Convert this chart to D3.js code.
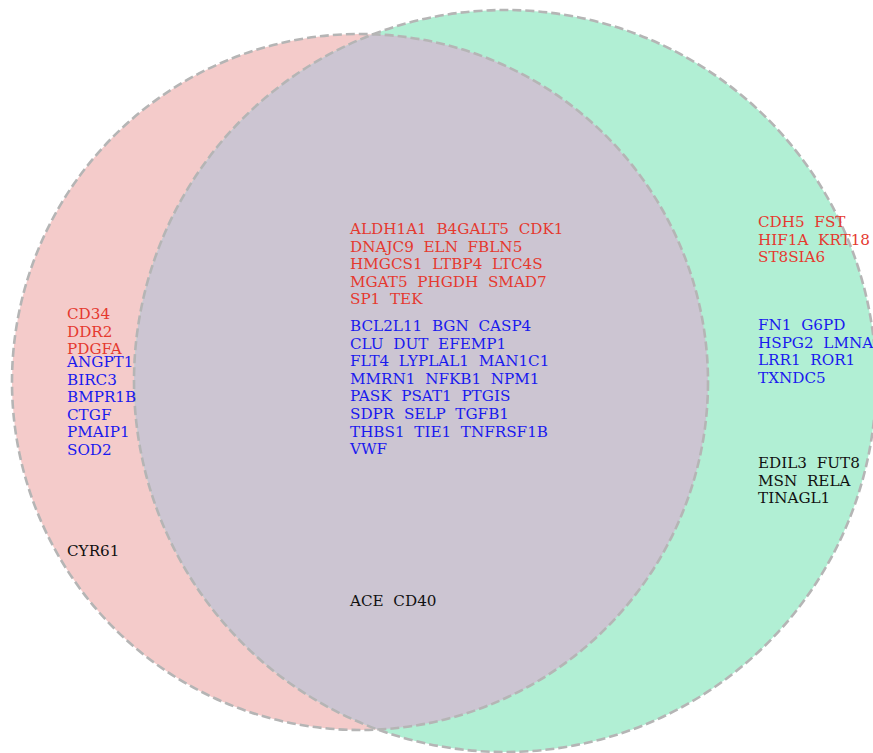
<!DOCTYPE html>
<html>
<head>
<meta charset="utf-8">
<script src="https://cdn.jsdelivr.net/npm/d3@7"></script>
<style>
  body { margin: 0; background: #fff; }
  svg { display: block; }
</style>
</head>
<body>
<svg width="873" height="753"></svg>
<script>
// gene lists per region, split by colour
var leftRed = ["CD34", "DDR2", "PDGFA"];
var leftBlue = ["ANGPT1", "BIRC3", "BMPR1B", "CTGF", "PMAIP1", "SOD2"];
var leftBlack = ["CYR61"];

var bothRed = ["ALDH1A1", "B4GALT5", "CDK1", "DNAJC9", "ELN", "FBLN5", "HMGCS1", "LTBP4",
    "LTC4S", "MGAT5", "PHGDH", "SMAD7", "SP1", "TEK"];
var bothBlue = ["BCL2L11", "BGN", "CASP4", "CLU", "DUT", "EFEMP1", "FLT4", "LYPLAL1", "MAN1C1",
    "MMRN1", "NFKB1", "NPM1", "PASK", "PSAT1", "PTGIS", "SDPR", "SELP", "TGFB1", "THBS1",
    "TIE1", "TNFRSF1B", "VWF"];
var bothBlack = ["ACE", "CD40"];

var rightRed = ["CDH5", "FST", "HIF1A", "KRT18", "ST8SIA6"];
var rightBlue = ["FN1", "G6PD", "HSPG2", "LMNA", "LRR1", "ROR1", "TXNDC5"];
var rightBlack = ["EDIL3", "FUT8", "MSN", "RELA", "TINAGL1"];

var svg = d3.select("svg");

// plot units -> pixels
var xScale = d3.scaleLinear().domain([0, 1]).range([0, 873]);
var yScale = d3.scaleLinear().domain([0, 1]).range([0, 753]);

var leftC = { cx: 360, cy: 382, r: 348 };
var rightC = { cx: 505, cy: 381, r: 371 };

var defs = svg.append("defs");
defs.append("clipPath").attr("id", "leftClip")
    .append("circle").attr("cx", leftC.cx).attr("cy", leftC.cy).attr("r", leftC.r);

svg.append("circle").attr("cx", leftC.cx).attr("cy", leftC.cy).attr("r", leftC.r)
    .attr("fill", "#f4cbca");
svg.append("circle").attr("cx", rightC.cx).attr("cy", rightC.cy).attr("r", rightC.r)
    .attr("fill", "#b1efd4");
svg.append("circle").attr("cx", rightC.cx).attr("cy", rightC.cy).attr("r", rightC.r)
    .attr("clip-path", "url(#leftClip)")
    .attr("fill", "#ccc5d2");

[leftC, rightC].forEach(function (c) {
    svg.append("circle").attr("cx", c.cx).attr("cy", c.cy).attr("r", c.r)
        .attr("fill", "none")
        .attr("stroke", "#b5b5b5")
        .attr("stroke-width", 2.6)
        .attr("stroke-dasharray", "9,4");
});

var lineH = 17.6;
var colours = { red: "#e5392f", blue: "#1a1aee", black: "#111111" };

function chunk(arr, n) {
    var out = [];
    for (var i = 0; i < arr.length; i += n) out.push(arr.slice(i, i + n).join("\u00a0\u00a0"));
    return out;
}

function block(genes, perLine, x, y, colour) {
    var lines = chunk(genes, perLine);
    svg.append("text")
        .attr("x", x).attr("y", y)
        .attr("fill", colour)
        .style("font-family", "'DejaVu Serif', serif")
        .style("font-size", "15.2px")
        .selectAll("tspan").data(lines).join("tspan")
        .attr("x", x)
        .attr("dy", function (d, i) { return i == 0 ? 0 : lineH; })
        .text(function (d) { return d; });
}

block(leftRed, 1, xScale(67 / 873), yScale(319 / 753), colours.red);
block(leftBlue, 1, xScale(67 / 873), yScale(367 / 753), colours.blue);
block(leftBlack, 1, xScale(67 / 873), yScale(556 / 753), colours.black);

block(bothRed, 3, xScale(350 / 873), yScale(234 / 753), colours.red);
block(bothBlue, 3, xScale(350 / 873), yScale(331 / 753), colours.blue);
block(bothBlack, 3, xScale(350 / 873), yScale(606 / 753), colours.black);

block(rightRed, 2, xScale(758 / 873), yScale(227 / 753), colours.red);
block(rightBlue, 2, xScale(758 / 873), yScale(330 / 753), colours.blue);
block(rightBlack, 2, xScale(758 / 873), yScale(468 / 753), colours.black);
</script>
</body>
</html>
